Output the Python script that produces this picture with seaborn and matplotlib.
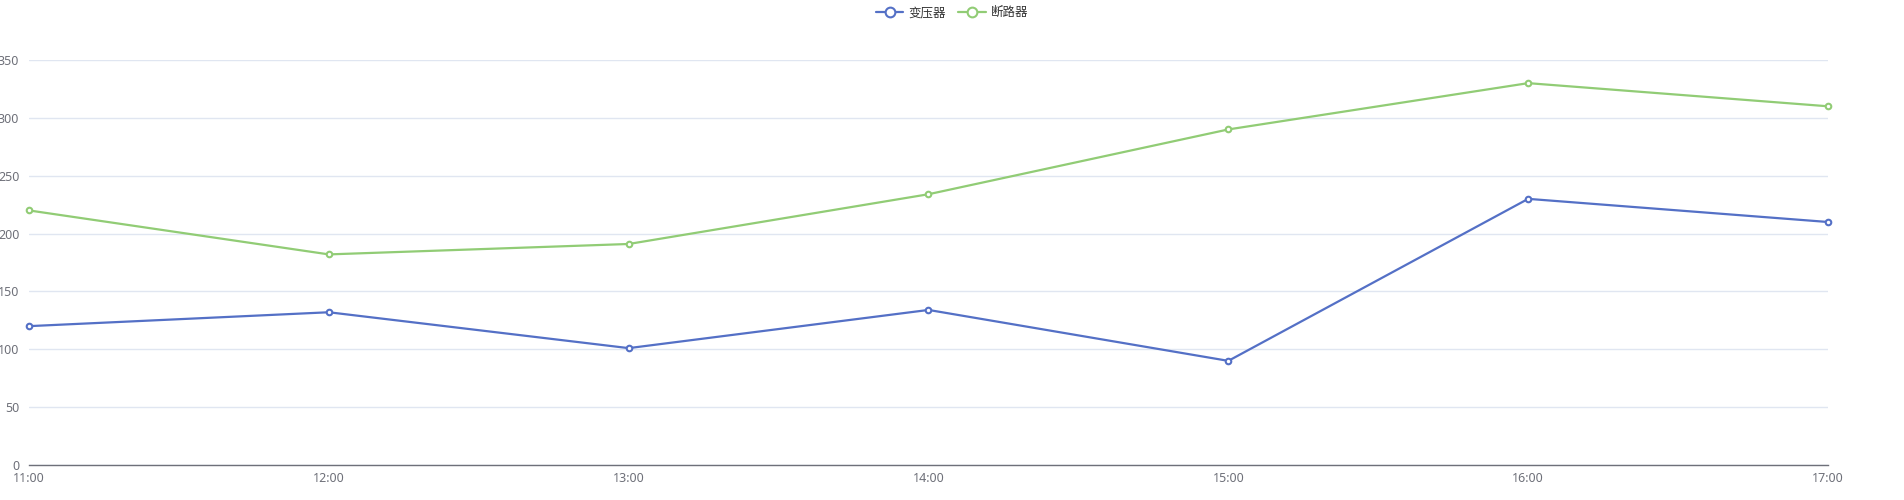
import pandas as pd
import numpy as np
import matplotlib
matplotlib.use("Agg")
import matplotlib.pyplot as plt
import seaborn as sns
from matplotlib.lines import Line2D

# data
times = ["11:00", "12:00", "13:00", "14:00", "15:00", "16:00", "17:00"]
transformer = [120, 132, 101, 134, 90, 230, 210]
breaker = [220, 182, 191, 234, 290, 330, 310]
series_names = ["变压器", "断路器"]
yticks = [0, 50, 100, 150, 200, 250, 300, 350]

df = pd.DataFrame({
    "time": times * 2,
    "value": transformer + breaker,
    "series": [series_names[0]] * len(times) + [series_names[1]] * len(times),
})
df["x"] = df["time"].map({t: i for i, t in enumerate(times)})

sns.set_style("white")
plt.rcParams["font.family"] = ["Noto Sans", "Noto Sans CJK SC", "DejaVu Sans"]

palette = {series_names[0]: "#5470c6", series_names[1]: "#91cc75"}
text_col = "#6E7079"

fig = plt.figure(figsize=(19.04, 5), dpi=100)
ax = fig.add_axes([29 / 1904, 35 / 500, (1828 - 29) / 1904, (465 - 60) / 500])

sns.lineplot(data=df, x="x", y="value", hue="series", palette=palette,
             marker="o", markersize=4, markerfacecolor="white",
             markeredgewidth=1.5, linewidth=1.6, ax=ax, legend=False)
# marker edge colour follows the line
for line in ax.lines:
    line.set_markeredgecolor(line.get_color())
    line.set_clip_on(False)
    line.set_zorder(3)

ax.set_xlim(0, len(times) - 1)
ax.set_ylim(0, 350)
ax.set_xticks(range(len(times)))
ax.set_xticklabels(times)
ax.set_yticks(yticks)
ax.set_xlabel("")
ax.set_ylabel("")

ax.grid(axis="y", color="#E0E6F1", linewidth=1)
ax.set_axisbelow(True)
for s in ["top", "right", "left"]:
    ax.spines[s].set_visible(False)
ax.spines["bottom"].set_color(text_col)
ax.spines["bottom"].set_linewidth(1)

ax.tick_params(axis="y", length=0, labelsize=9, colors=text_col, pad=7)
ax.tick_params(axis="x", length=5, width=1, color=text_col, labelsize=9,
               labelcolor=text_col, pad=0)

handles = [Line2D([0], [0], color=palette[n], lw=1.6, marker="o", markersize=7,
                  markerfacecolor="white", markeredgewidth=1.5,
                  markeredgecolor=palette[n]) for n in series_names]
fig.legend(handles, series_names, loc="upper center", bbox_to_anchor=(0.5, 1.0),
           ncol=2, frameon=False, fontsize=9, handlelength=2.2,
           handletextpad=0.4, columnspacing=1.0, borderaxespad=0.1,
           labelcolor="#333333")

fig.savefig("out.png", dpi=100)
